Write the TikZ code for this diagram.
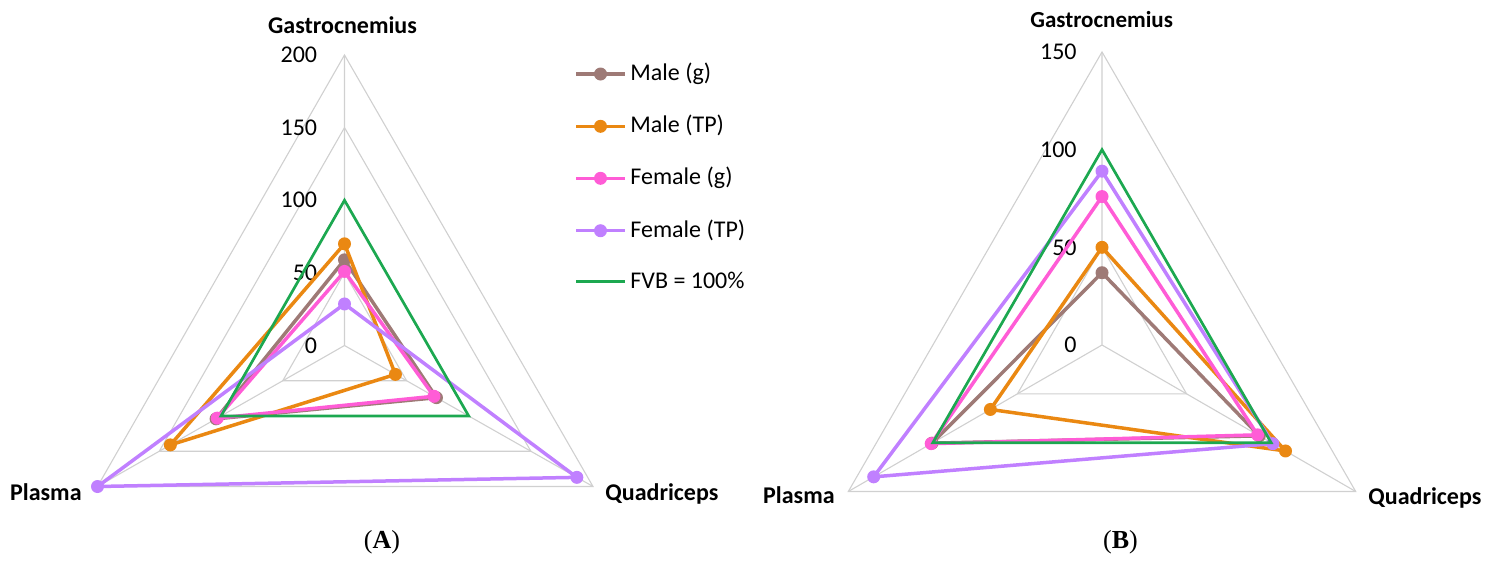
\documentclass[tikz,border=0pt]{standalone}
\usepackage{fontspec}
\setmainfont{Carlito}
\newfontfamily\capfont{Liberation Serif}
\usetikzlibrary{calc}
\definecolor{cbrown}{RGB}{158,122,118}
\definecolor{corange}{RGB}{234,136,18}
\definecolor{cpink}{RGB}{255,92,214}
\definecolor{cpurple}{RGB}{192,128,255}
\definecolor{cgreen}{RGB}{28,168,80}
\definecolor{cgrid}{RGB}{208,208,208}
\newcommand\radarseries[7]{% chart, name, max, G, Q, P, colour
  \coordinate (#1-#2-G) at ($(#1-c)!{#4/#3}!(#1-t)$);
  \coordinate (#1-#2-Q) at ($(#1-c)!{#5/#3}!(#1-r)$);
  \coordinate (#1-#2-P) at ($(#1-c)!{#6/#3}!(#1-l)$);
  \draw[series, draw=#7] (#1-#2-G) -- (#1-#2-Q) -- (#1-#2-P) -- cycle;
  \node[dot, fill=#7] (#1-#2-Gm) at (#1-#2-G) {};
  \node[dot, fill=#7] (#1-#2-Qm) at (#1-#2-Q) {};
  \node[dot, fill=#7] (#1-#2-Pm) at (#1-#2-P) {};
}
\begin{document}
\begin{tikzpicture}[x=0.5pt,y=-0.5pt,
  gridline/.style={draw=cgrid, line width=0.55pt},
  series/.style={line width=1.75pt, line join=round},
  refline/.style={draw=cgreen, line width=1.35pt, line join=miter},
  dot/.style={circle, inner sep=0pt, minimum size=6.5pt, draw=none},
  ticklab/.style={inner sep=0pt, anchor=east, font=\fontsize{12}{14}\selectfont},
  axlab/.style={inner sep=0pt, font=\bfseries\fontsize{12}{14}\selectfont},
  leglab/.style={inner sep=0pt, anchor=base west, font=\fontsize{12}{14}\selectfont},
  caplab/.style={inner sep=0pt, anchor=base, font=\capfont\fontsize{13}{15}\selectfont}]
\path[use as bounding box] (0,0) rectangle (1488,563);

% ---------------- chart A ----------------
\coordinate (A-c) at (344.5,345.5);
\coordinate (A-t) at (344.5,55);
\coordinate (A-l) at (97.5,486.5);
\coordinate (A-r) at (593,486.5);
\foreach \f in {0.25,0.5,0.75,1}
  \draw[gridline] ($(A-c)!\f!(A-t)$) -- ($(A-c)!\f!(A-r)$) -- ($(A-c)!\f!(A-l)$) -- cycle;
\draw[gridline] (A-c) -- (A-t) (A-c) -- (A-l) (A-c) -- (A-r);
\node[ticklab] (A-t0) at ($(A-c)+(-27,0)$) {0};
\node[ticklab] (A-t1) at ($(A-c)!0.25!(A-t)+(-27,0)$) {50};
\node[ticklab] (A-t2) at ($(A-c)!0.5!(A-t)+(-27,0)$) {100};
\node[ticklab] (A-t3) at ($(A-c)!0.75!(A-t)+(-27,0)$) {150};
\node[ticklab] (A-t4) at ($(A-t)+(-27,0)$) {200};
\node[axlab, anchor=base] (A-gl) at (342.5,33) {Gastrocnemius};
\node[axlab, anchor=base east] (A-pl) at (82,500) {Plasma};
\node[axlab, anchor=base west] (A-ql) at (605,500) {Quadriceps};
\radarseries{A}{mg}{200}{59}{74}{104}{cbrown}
\radarseries{A}{mt}{200}{70}{41}{141}{corange}
\radarseries{A}{fg}{200}{51}{72}{103}{cpink}
\radarseries{A}{ft}{200}{28.6}{187}{200}{cpurple}
\coordinate (A-v-G) at ($(A-c)!0.5!(A-t)$);
\coordinate (A-v-Q) at ($(A-c)!0.5!(A-r)$);
\coordinate (A-v-P) at ($(A-c)!0.5!(A-l)$);
\draw[refline] (A-v-G) -- (A-v-Q) -- (A-v-P) -- cycle;
\node[caplab] (A-cap) at (382,548) {(\textbf{A})};

% ---------------- legend ----------------
\foreach \y/\col/\txt [count=\i] in {74/cbrown/Male (g), 126.3/corange/Male (TP), 178.3/cpink/Female (g), 230.7/cpurple/Female (TP)}{
  \coordinate (L\i a) at (576,\y);
  \coordinate (L\i b) at (625,\y);
  \draw[series, draw=\col] (L\i a) -- (L\i b);
  \node[dot, fill=\col] (L\i m) at (600.5,\y) {};
  \node[leglab] (L\i t) at (630,\y+6.5) {\txt};
}
\coordinate (L5a) at (576,281.7);
\coordinate (L5b) at (625,281.7);
\draw[refline] (L5a) -- (L5b);
\node[leglab] (L5t) at (630,288.5) {FVB = 100\%};

% ---------------- chart B ----------------
\coordinate (B-c) at (1102,345);
\coordinate (B-t) at (1102,52);
\coordinate (B-l) at (848.3,491.5);
\coordinate (B-r) at (1355.7,491.5);
\foreach \f in {0.3333,0.6667,1}
  \draw[gridline] ($(B-c)!\f!(B-t)$) -- ($(B-c)!\f!(B-r)$) -- ($(B-c)!\f!(B-l)$) -- cycle;
\draw[gridline] (B-c) -- (B-t) (B-c) -- (B-l) (B-c) -- (B-r);
\node[ticklab] (B-t0) at ($(B-c)+(-25,0)$) {0};
\node[ticklab] (B-t1) at ($(B-c)!0.3333!(B-t)+(-25,0)$) {50};
\node[ticklab] (B-t2) at ($(B-c)!0.6667!(B-t)+(-25,0)$) {100};
\node[ticklab] (B-t3) at ($(B-t)+(-25,0)$) {150};
\node[axlab, anchor=base, font=\bfseries\fontsize{11.5}{13}\selectfont] (B-gl) at (1101.7,27.5) {Gastrocnemius};
\node[axlab, anchor=base east] (B-pl) at (835,503) {Plasma};
\node[axlab, anchor=base west] (B-ql) at (1368,504) {Quadriceps};
\radarseries{B}{mg}{150}{37}{93}{100.5}{cbrown}
\radarseries{B}{mt}{150}{50}{108.5}{66}{corange}
\radarseries{B}{fg}{150}{76}{92}{101}{cpink}
\radarseries{B}{ft}{150}{89}{101}{135}{cpurple}
\coordinate (B-v-G) at ($(B-c)!0.6667!(B-t)$);
\coordinate (B-v-Q) at ($(B-c)!0.6667!(B-r)$);
\coordinate (B-v-P) at ($(B-c)!0.6667!(B-l)$);
\draw[refline] (B-v-G) -- (B-v-Q) -- (B-v-P) -- cycle;
\node[caplab] (B-cap) at (1120.5,548) {(\textbf{B})};
\end{tikzpicture}
\end{document}
